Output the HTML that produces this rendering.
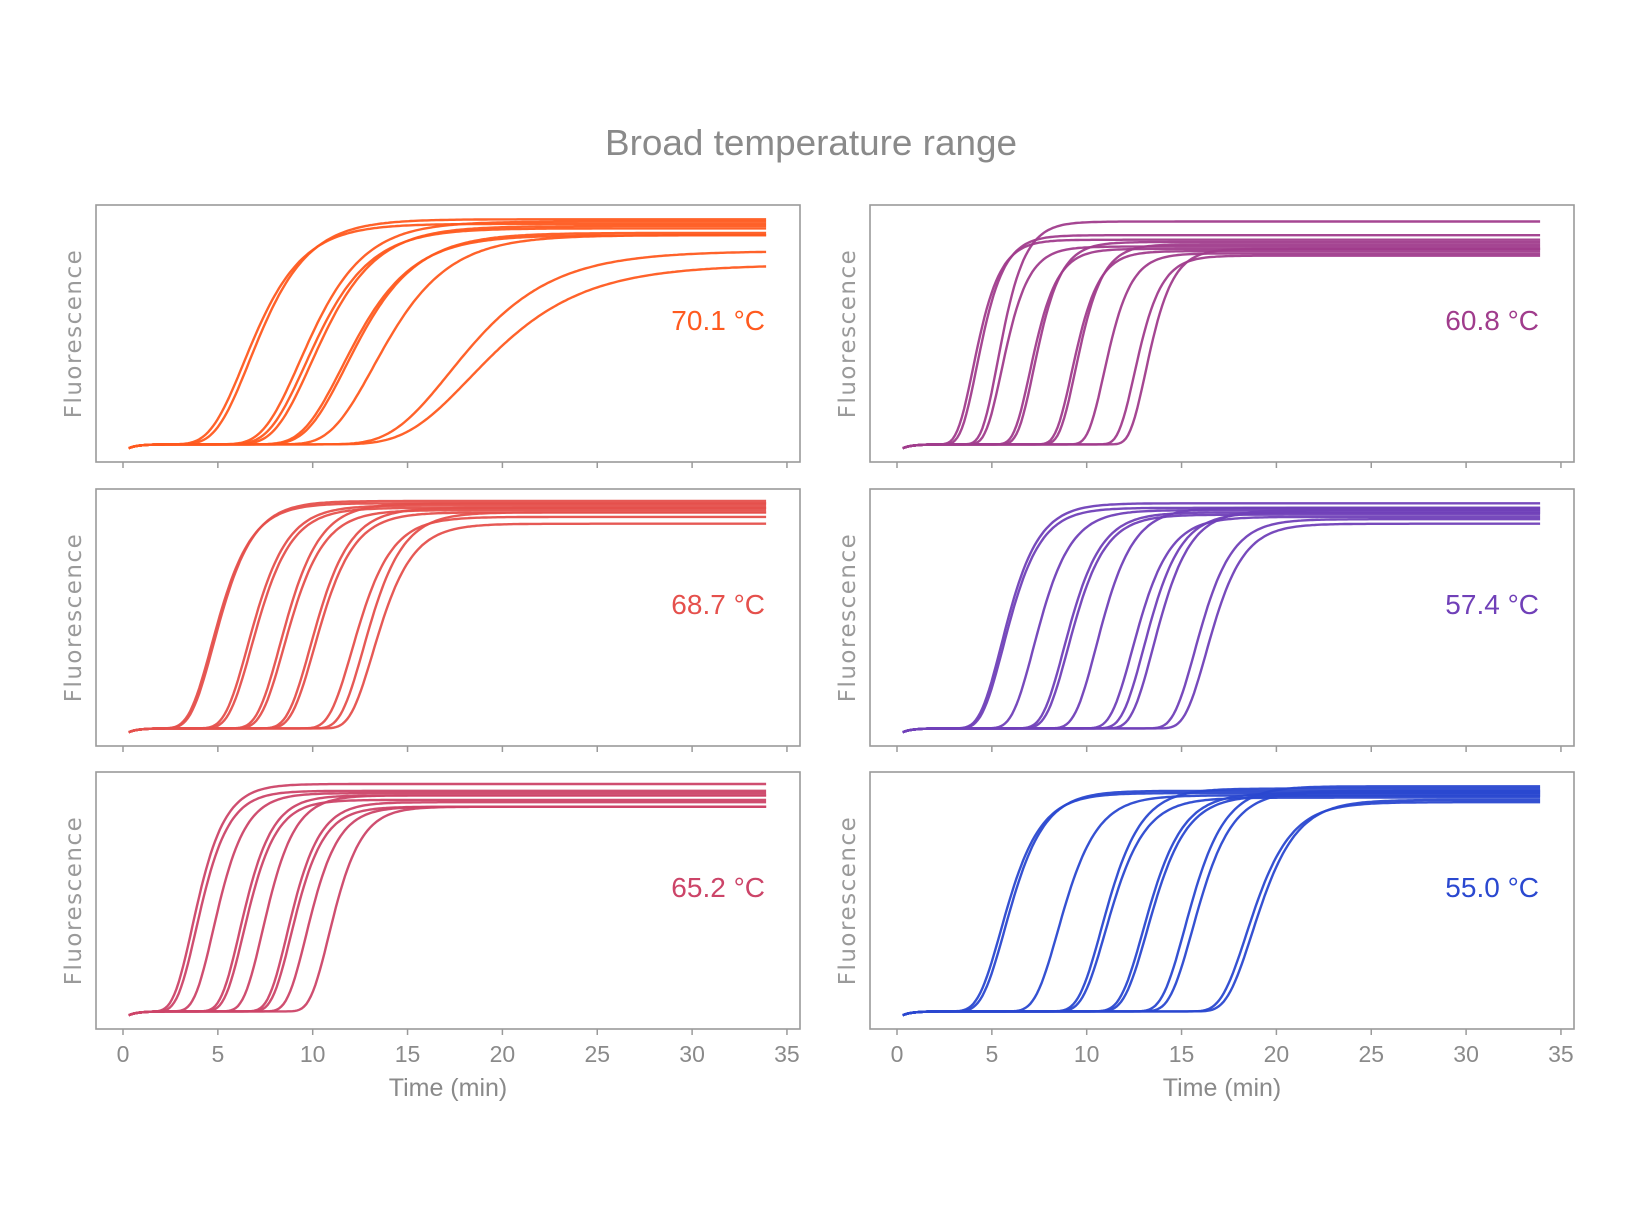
<!DOCTYPE html>
<html><head><meta charset="utf-8"><style>
body{margin:0;background:#fff;}
svg{display:block;font-family:"DejaVu Sans","Liberation Sans",sans-serif;}
</style></head><body>
<svg id="s" width="1640" height="1231" xmlns="http://www.w3.org/2000/svg">
<text x="811" y="155" text-anchor="middle" font-size="36" fill="#8a8a8a" font-family="Liberation Sans, sans-serif" textLength="412" lengthAdjust="spacingAndGlyphs">Broad temperature range</text>
</svg>
<script>
const NS="http://www.w3.org/2000/svg",s=document.getElementById('s');
function el(n,a,t){const e=document.createElementNS(NS,n);for(const k in a)e.setAttribute(k,a[k]);if(t)e.textContent=t;s.appendChild(e);return e;}
const rows=[205,489,772],H=257;
const panels=[
 {c:0,r:0,col:"#ff5a1f",u:1.6,lab:"70.1 °C",cv:[[7,1.1,.97],[7.3,1.1,.99],[10,1.2,.98],[10.3,1.2,.95],[10.6,1.2,.96],[12.3,1.3,.92],[12.5,1.3,.93],[14,1.4,.92],[18.3,1.9,.85],[19.5,2.1,.79]]},
 {c:0,r:1,col:"#e5504c",u:1.4,lab:"68.7 °C",cv:[[5.1,.85,.99],[5.2,.85,1],[7,.85,.98],[7.2,.85,.97],[8.7,.85,.99],[8.9,.85,.96],[10.3,.85,.97],[10.5,.85,.95],[12.5,.85,.93],[13.1,.85,.95],[13.6,.85,.9]]},
 {c:0,r:2,col:"#cc4468",u:1.4,lab:"65.2 °C",cv:[[4,.7,1],[4.2,.7,.97],[5.1,.7,.96],[6.5,.7,.95],[6.7,.7,.93],[7.7,.7,.95],[9,.7,.92],[9.2,.7,.9],[10,.7,.9],[11.2,.7,.9]]},
 {c:1,r:0,col:"#a03c8c",u:1.5,lab:"60.8 °C",cv:[[4.3,.55,.9],[4.5,.55,.92],[5.6,.55,.98],[5.8,.55,.87],[7.3,.55,.86],[7.5,.55,.89],[9.5,.55,.85],[9.7,.55,.88],[11.2,.55,.84],[12.8,.55,.83],[13.4,.55,.86]]},
 {c:1,r:1,col:"#7040b8",u:1.4,lab:"57.4 °C",cv:[[5.9,.8,.99],[6,.8,.97],[7.6,.8,.96],[9.2,.8,.95],[9.4,.8,.94],[10.9,.8,.97],[12.8,.8,.93],[13.4,.8,.95],[13.9,.8,.96],[16.1,.8,.92],[16.7,.8,.9]]},
 {c:1,r:2,col:"#2a48d0",u:1.4,lab:"55.0 °C",cv:[[5.9,.85,.96],[6.1,.85,.97],[8.9,.85,.95],[11.2,.85,.98],[11.4,.85,.94],[13.4,.85,.96],[13.6,.85,.95],[15.6,.85,.99],[16,.85,.97],[18.9,.95,.92],[19.2,.95,.93]]}
];
for(const p of panels){
 const x0=p.c?870:96,x1=p.c?1574:800,top=rows[p.r],bot=top+H,ox=p.c?897:123,sc=18.97;
 const yb=bot-13,yt=top+12;
 el('rect',{x:x0,y:top,width:x1-x0,height:H,fill:"none",stroke:"#9a9a9a","stroke-width":1.6});
 for(let i=0;i<=7;i++){const x=ox+i*5*sc;el('line',{x1:x,x2:x,y1:bot,y2:bot+6,stroke:"#9a9a9a","stroke-width":1.5});
  if(p.r==2)el('text',{x:x,y:1062,"text-anchor":"middle","font-size":23,fill:"#8a8a8a","font-family":"Liberation Sans, sans-serif"},String(i*5));}
 if(p.r==2)el('text',{x:(x0+x1)/2,y:1096,"text-anchor":"middle","font-size":25,fill:"#8a8a8a","font-family":"Liberation Sans, sans-serif"},"Time (min)");
 const cy=top+H/2;
 el('text',{x:0,y:0,transform:`translate(${x0-15},${cy}) rotate(-90)`,"text-anchor":"middle","font-size":23,fill:"#9a9a9a","letter-spacing":"1.5"},"Fluorescence");
 el('text',{x:x1-35,y:top+125,"text-anchor":"end","font-size":28,fill:p.col,"font-family":"Liberation Sans, sans-serif"},p.lab);
 for(const [t0,k,tp] of p.cv){
  const kg=k*p.u, tm=t0-0.3665*kg;
  let d="";
  for(let t=0.3;t<=34.01;t+=0.12){
   let f=tp*Math.exp(-Math.exp(-(t-tm)/kg));
   const b=0.02-0.03*Math.exp(-t/0.5);
   const v=b+f*(1-b);
   const x=ox+t*sc,y=yb-v*(yb-yt);
   d+=(d?"L":"M")+x.toFixed(1)+" "+y.toFixed(1);
  }
  el('path',{d:d,fill:"none",stroke:p.col,"stroke-width":2.4,"stroke-opacity":.95});
 }
}
</script>
</body></html>
